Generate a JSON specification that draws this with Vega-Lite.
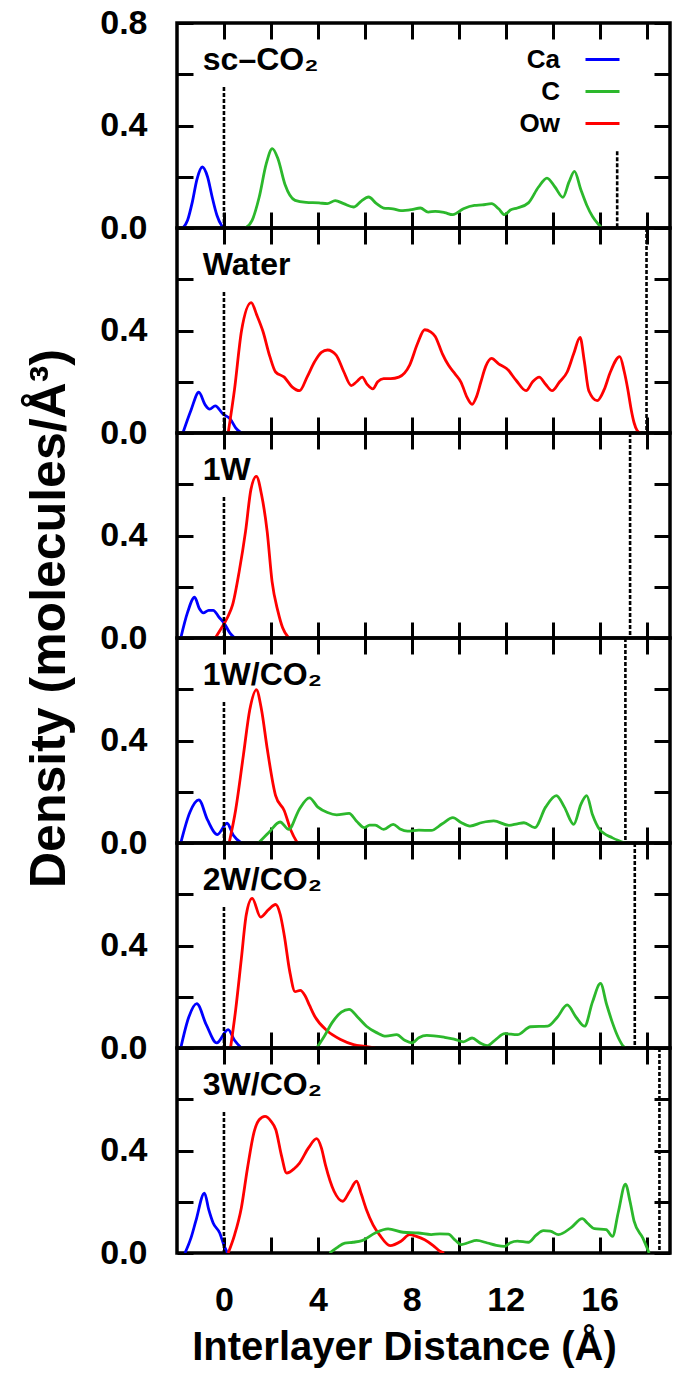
{
  "$schema": "https://vega.github.io/schema/vega-lite/v6.json",
  "background": "white",
  "padding": {"left": 22, "top": 4, "right": 0, "bottom": 0},
  "datasets": {
    "scco2": [
      {"species":"Ca","distance":-1.75,"density":0},{"species":"Ca","distance":-1.55,"density":0.03},{"species":"Ca","distance":-1.35,"density":0.1},{"species":"Ca","distance":-1.15,"density":0.19},{"species":"Ca","distance":-0.92,"density":0.238},{"species":"Ca","distance":-0.7,"density":0.2},{"species":"Ca","distance":-0.5,"density":0.12},{"species":"Ca","distance":-0.3,"density":0.05},{"species":"Ca","distance":-0.1,"density":0.01},{"species":"Ca","distance":0,"density":0},
      {"species":"C","distance":0.92,"density":0},{"species":"C","distance":1.2,"density":0.03},{"species":"C","distance":1.5,"density":0.12},{"species":"C","distance":1.8,"density":0.25},{"species":"C","distance":2.06,"density":0.31},{"species":"C","distance":2.3,"density":0.27},{"species":"C","distance":2.6,"density":0.17},{"species":"C","distance":3.03,"density":0.108},{"species":"C","distance":3.5,"density":0.1},{"species":"C","distance":4.05,"density":0.098},{"species":"C","distance":4.4,"density":0.095},{"species":"C","distance":4.74,"density":0.107},{"species":"C","distance":5.1,"density":0.095},{"species":"C","distance":5.52,"density":0.082},{"species":"C","distance":5.85,"density":0.105},{"species":"C","distance":6.16,"density":0.121},{"species":"C","distance":6.5,"density":0.095},{"species":"C","distance":6.8,"density":0.078},{"species":"C","distance":7.2,"density":0.075},{"species":"C","distance":7.54,"density":0.068},{"species":"C","distance":8.0,"density":0.072},{"species":"C","distance":8.37,"density":0.078},{"species":"C","distance":8.7,"density":0.062},{"species":"C","distance":9.0,"density":0.065},{"species":"C","distance":9.4,"density":0.06},{"species":"C","distance":9.75,"density":0.052},{"species":"C","distance":10.2,"density":0.075},{"species":"C","distance":10.67,"density":0.088},{"species":"C","distance":11.0,"density":0.09},{"species":"C","distance":11.4,"density":0.095},{"species":"C","distance":11.7,"density":0.075},{"species":"C","distance":11.95,"density":0.052},{"species":"C","distance":12.2,"density":0.07},{"species":"C","distance":12.5,"density":0.078},{"species":"C","distance":12.97,"density":0.098},{"species":"C","distance":13.4,"density":0.16},{"species":"C","distance":13.76,"density":0.195},{"species":"C","distance":14.1,"density":0.16},{"species":"C","distance":14.44,"density":0.12},{"species":"C","distance":14.7,"density":0.18},{"species":"C","distance":14.93,"density":0.221},{"species":"C","distance":15.2,"density":0.15},{"species":"C","distance":15.45,"density":0.09},{"species":"C","distance":15.7,"density":0.045},{"species":"C","distance":15.9,"density":0.02},{"species":"C","distance":16.1,"density":0}
    ],
    "water": [
      {"species":"Ca","distance":-1.75,"density":0},{"species":"Ca","distance":-1.4,"density":0.09},{"species":"Ca","distance":-1.07,"density":0.159},{"species":"Ca","distance":-0.8,"density":0.11},{"species":"Ca","distance":-0.61,"density":0.093},{"species":"Ca","distance":-0.37,"density":0.106},{"species":"Ca","distance":-0.05,"density":0.075},{"species":"Ca","distance":0.28,"density":0.053},{"species":"Ca","distance":0.5,"density":0.02},{"species":"Ca","distance":0.74,"density":0},
      {"species":"Ow","distance":0.18,"density":0},{"species":"Ow","distance":0.45,"density":0.17},{"species":"Ow","distance":0.75,"density":0.4},{"species":"Ow","distance":1.16,"density":0.509},{"species":"Ow","distance":1.4,"density":0.46},{"species":"Ow","distance":1.66,"density":0.397},{"species":"Ow","distance":1.95,"density":0.3},{"species":"Ow","distance":2.2,"density":0.238},{"species":"Ow","distance":2.57,"density":0.218},{"species":"Ow","distance":2.9,"density":0.18},{"species":"Ow","distance":3.22,"density":0.165},{"species":"Ow","distance":3.55,"density":0.22},{"species":"Ow","distance":3.86,"density":0.278},{"species":"Ow","distance":4.15,"density":0.315},{"species":"Ow","distance":4.41,"density":0.324},{"species":"Ow","distance":4.78,"density":0.304},{"species":"Ow","distance":5.1,"density":0.24},{"species":"Ow","distance":5.42,"density":0.185},{"species":"Ow","distance":5.65,"density":0.2},{"species":"Ow","distance":5.89,"density":0.218},{"species":"Ow","distance":6.1,"density":0.19},{"species":"Ow","distance":6.34,"density":0.172},{"species":"Ow","distance":6.55,"density":0.2},{"species":"Ow","distance":6.8,"density":0.212},{"species":"Ow","distance":7.1,"density":0.212},{"species":"Ow","distance":7.45,"density":0.218},{"species":"Ow","distance":7.91,"density":0.265},{"species":"Ow","distance":8.25,"density":0.35},{"species":"Ow","distance":8.55,"density":0.403},{"species":"Ow","distance":8.8,"density":0.395},{"species":"Ow","distance":9.0,"density":0.377},{"species":"Ow","distance":9.3,"density":0.31},{"species":"Ow","distance":9.56,"density":0.265},{"species":"Ow","distance":9.85,"density":0.23},{"species":"Ow","distance":10.1,"density":0.198},{"species":"Ow","distance":10.35,"density":0.14},{"species":"Ow","distance":10.57,"density":0.112},{"species":"Ow","distance":10.75,"density":0.14},{"species":"Ow","distance":10.94,"density":0.198},{"species":"Ow","distance":11.15,"density":0.26},{"species":"Ow","distance":11.4,"density":0.291},{"species":"Ow","distance":11.7,"density":0.27},{"species":"Ow","distance":12.05,"density":0.251},{"species":"Ow","distance":12.45,"density":0.205},{"species":"Ow","distance":12.87,"density":0.165},{"species":"Ow","distance":13.15,"density":0.2},{"species":"Ow","distance":13.43,"density":0.218},{"species":"Ow","distance":13.7,"density":0.19},{"species":"Ow","distance":13.98,"density":0.165},{"species":"Ow","distance":14.3,"density":0.2},{"species":"Ow","distance":14.62,"density":0.238},{"species":"Ow","distance":14.9,"density":0.31},{"species":"Ow","distance":15.17,"density":0.373},{"species":"Ow","distance":15.35,"density":0.28},{"species":"Ow","distance":15.54,"density":0.165},{"species":"Ow","distance":15.9,"density":0.126},{"species":"Ow","distance":16.2,"density":0.17},{"species":"Ow","distance":16.46,"density":0.238},{"species":"Ow","distance":16.86,"density":0.298},{"species":"Ow","distance":17.05,"density":0.24},{"species":"Ow","distance":17.2,"density":0.172},{"species":"Ow","distance":17.35,"density":0.09},{"species":"Ow","distance":17.47,"density":0.04},{"species":"Ow","distance":17.6,"density":0.01},{"species":"Ow","distance":17.75,"density":0}
    ],
    "w1": [
      {"species":"Ca","distance":-1.84,"density":0},{"species":"Ca","distance":-1.55,"density":0.1},{"species":"Ca","distance":-1.25,"density":0.159},{"species":"Ca","distance":-1.05,"density":0.115},{"species":"Ca","distance":-0.88,"density":0.098},{"species":"Ca","distance":-0.65,"density":0.108},{"species":"Ca","distance":-0.46,"density":0.108},{"species":"Ca","distance":-0.2,"density":0.08},{"species":"Ca","distance":0,"density":0.059},{"species":"Ca","distance":0.25,"density":0.02},{"species":"Ca","distance":0.46,"density":0},
      {"species":"Ow","distance":-0.37,"density":0},{"species":"Ow","distance":-0.1,"density":0.04},{"species":"Ow","distance":0.15,"density":0.08},{"species":"Ow","distance":0.37,"density":0.13},{"species":"Ow","distance":0.65,"density":0.26},{"species":"Ow","distance":0.92,"density":0.416},{"species":"Ow","distance":1.15,"density":0.58},{"species":"Ow","distance":1.38,"density":0.631},{"species":"Ow","distance":1.6,"density":0.56},{"species":"Ow","distance":1.84,"density":0.416},{"species":"Ow","distance":2.05,"density":0.22},{"species":"Ow","distance":2.3,"density":0.104},{"species":"Ow","distance":2.5,"density":0.04},{"species":"Ow","distance":2.76,"density":0}
    ],
    "w1co2": [
      {"species":"Ca","distance":-1.84,"density":0},{"species":"Ca","distance":-1.45,"density":0.12},{"species":"Ca","distance":-1.07,"density":0.168},{"species":"Ca","distance":-0.7,"density":0.09},{"species":"Ca","distance":-0.28,"density":0.033},{"species":"Ca","distance":0.13,"density":0.077},{"species":"Ca","distance":0.4,"density":0.03},{"species":"Ca","distance":0.74,"density":0},
      {"species":"Ow","distance":0.22,"density":0},{"species":"Ow","distance":0.5,"density":0.13},{"species":"Ow","distance":0.83,"density":0.344},{"species":"Ow","distance":1.1,"density":0.52},{"species":"Ow","distance":1.38,"density":0.598},{"species":"Ow","distance":1.6,"density":0.52},{"species":"Ow","distance":1.84,"density":0.37},{"species":"Ow","distance":2.2,"density":0.185},{"species":"Ow","distance":2.57,"density":0.126},{"species":"Ow","distance":2.85,"density":0.05},{"species":"Ow","distance":3.13,"density":0},
      {"species":"C","distance":1.47,"density":0},{"species":"C","distance":1.9,"density":0.04},{"species":"C","distance":2.39,"density":0.082},{"species":"C","distance":2.76,"density":0.053},{"species":"C","distance":3.2,"density":0.13},{"species":"C","distance":3.64,"density":0.176},{"species":"C","distance":4.0,"density":0.14},{"species":"C","distance":4.41,"density":0.119},{"species":"C","distance":4.8,"density":0.11},{"species":"C","distance":5.33,"density":0.116},{"species":"C","distance":5.65,"density":0.085},{"species":"C","distance":5.98,"density":0.06},{"species":"C","distance":6.2,"density":0.07},{"species":"C","distance":6.44,"density":0.07},{"species":"C","distance":6.8,"density":0.053},{"species":"C","distance":7.21,"density":0.073},{"species":"C","distance":7.5,"density":0.055},{"species":"C","distance":7.82,"density":0.046},{"species":"C","distance":8.3,"density":0.05},{"species":"C","distance":8.83,"density":0.049},{"species":"C","distance":9.3,"density":0.075},{"species":"C","distance":9.75,"density":0.099},{"species":"C","distance":10.1,"density":0.08},{"species":"C","distance":10.48,"density":0.066},{"species":"C","distance":11.0,"density":0.08},{"species":"C","distance":11.49,"density":0.086},{"species":"C","distance":12.14,"density":0.069},{"species":"C","distance":12.5,"density":0.075},{"species":"C","distance":12.78,"density":0.079},{"species":"C","distance":13.24,"density":0.06},{"species":"C","distance":13.7,"density":0.14},{"species":"C","distance":14.16,"density":0.185},{"species":"C","distance":14.5,"density":0.14},{"species":"C","distance":14.9,"density":0.073},{"species":"C","distance":15.2,"density":0.15},{"species":"C","distance":15.45,"density":0.185},{"species":"C","distance":15.7,"density":0.11},{"species":"C","distance":16.0,"density":0.053},{"species":"C","distance":16.55,"density":0.02},{"species":"C","distance":17.1,"density":0}
    ],
    "w2co2": [
      {"species":"Ca","distance":-1.84,"density":0},{"species":"Ca","distance":-1.5,"density":0.12},{"species":"Ca","distance":-1.16,"density":0.173},{"species":"Ca","distance":-0.75,"density":0.09},{"species":"Ca","distance":-0.31,"density":0.02},{"species":"Ca","distance":0.18,"density":0.072},{"species":"Ca","distance":0.45,"density":0.03},{"species":"Ca","distance":0.74,"density":0},
      {"species":"Ow","distance":0.28,"density":0},{"species":"Ow","distance":0.5,"density":0.15},{"species":"Ow","distance":0.74,"density":0.348},{"species":"Ow","distance":0.95,"density":0.52},{"species":"Ow","distance":1.2,"density":0.584},{"species":"Ow","distance":1.56,"density":0.511},{"species":"Ow","distance":1.9,"density":0.54},{"species":"Ow","distance":2.2,"density":0.56},{"species":"Ow","distance":2.4,"density":0.52},{"species":"Ow","distance":2.57,"density":0.439},{"species":"Ow","distance":2.8,"density":0.3},{"species":"Ow","distance":3.03,"density":0.22},{"species":"Ow","distance":3.25,"density":0.225},{"species":"Ow","distance":3.45,"density":0.205},{"species":"Ow","distance":3.65,"density":0.165},{"species":"Ow","distance":3.86,"density":0.125},{"species":"Ow","distance":4.41,"density":0.066},{"species":"Ow","distance":4.97,"density":0.033},{"species":"Ow","distance":5.52,"density":0.013},{"species":"Ow","distance":6.0,"density":0.006},{"species":"Ow","distance":6.44,"density":0},
      {"species":"C","distance":3.95,"density":0},{"species":"C","distance":4.3,"density":0.05},{"species":"C","distance":4.6,"density":0.098},{"species":"C","distance":5.0,"density":0.14},{"species":"C","distance":5.33,"density":0.151},{"species":"C","distance":5.7,"density":0.12},{"species":"C","distance":6.07,"density":0.085},{"species":"C","distance":6.5,"density":0.06},{"species":"C","distance":6.9,"density":0.046},{"species":"C","distance":7.36,"density":0.052},{"species":"C","distance":7.7,"density":0.03},{"species":"C","distance":8.0,"density":0.02},{"species":"C","distance":8.3,"density":0.04},{"species":"C","distance":8.64,"density":0.049},{"species":"C","distance":9.38,"density":0.042},{"species":"C","distance":9.8,"density":0.035},{"species":"C","distance":10.2,"density":0.024},{"species":"C","distance":10.57,"density":0.039},{"species":"C","distance":10.9,"density":0.02},{"species":"C","distance":11.22,"density":0.009},{"species":"C","distance":11.6,"density":0.035},{"species":"C","distance":11.95,"density":0.056},{"species":"C","distance":12.5,"density":0.052},{"species":"C","distance":13.06,"density":0.083},{"species":"C","distance":13.79,"density":0.085},{"species":"C","distance":14.2,"density":0.12},{"species":"C","distance":14.62,"density":0.168},{"species":"C","distance":15.0,"density":0.12},{"species":"C","distance":15.36,"density":0.085},{"species":"C","distance":15.7,"density":0.18},{"species":"C","distance":16.04,"density":0.252},{"species":"C","distance":16.3,"density":0.17},{"species":"C","distance":16.55,"density":0.098},{"species":"C","distance":16.8,"density":0.04},{"species":"C","distance":17.01,"density":0.007},{"species":"C","distance":17.1,"density":0}
    ],
    "w3co2": [
      {"species":"Ca","distance":-1.66,"density":0},{"species":"Ca","distance":-1.4,"density":0.06},{"species":"Ca","distance":-1.2,"density":0.124},{"species":"Ca","distance":-0.83,"density":0.234},{"species":"Ca","distance":-0.65,"density":0.17},{"species":"Ca","distance":-0.46,"density":0.117},{"species":"Ca","distance":-0.18,"density":0.078},{"species":"Ca","distance":0,"density":0.03},{"species":"Ca","distance":0.15,"density":0},
      {"species":"Ow","distance":0.18,"density":0},{"species":"Ow","distance":0.45,"density":0.07},{"species":"Ow","distance":0.74,"density":0.176},{"species":"Ow","distance":1.0,"density":0.33},{"species":"Ow","distance":1.29,"density":0.475},{"species":"Ow","distance":1.5,"density":0.52},{"species":"Ow","distance":1.75,"density":0.533},{"species":"Ow","distance":2.0,"density":0.515},{"species":"Ow","distance":2.21,"density":0.481},{"species":"Ow","distance":2.45,"density":0.38},{"species":"Ow","distance":2.67,"density":0.312},{"species":"Ow","distance":3.0,"density":0.33},{"species":"Ow","distance":3.22,"density":0.351},{"species":"Ow","distance":3.6,"density":0.41},{"species":"Ow","distance":3.95,"density":0.446},{"species":"Ow","distance":4.15,"density":0.41},{"species":"Ow","distance":4.32,"density":0.345},{"species":"Ow","distance":4.69,"density":0.241},{"species":"Ow","distance":5.06,"density":0.202},{"species":"Ow","distance":5.35,"density":0.24},{"species":"Ow","distance":5.65,"density":0.28},{"species":"Ow","distance":5.85,"density":0.23},{"species":"Ow","distance":6.07,"density":0.169},{"species":"Ow","distance":6.35,"density":0.11},{"species":"Ow","distance":6.62,"density":0.072},{"species":"Ow","distance":7.08,"density":0.029},{"species":"Ow","distance":7.54,"density":0.046},{"species":"Ow","distance":7.91,"density":0.072},{"species":"Ow","distance":8.2,"density":0.065},{"species":"Ow","distance":8.55,"density":0.052},{"species":"Ow","distance":8.9,"density":0.03},{"species":"Ow","distance":9.2,"density":0.007},{"species":"Ow","distance":9.38,"density":0},
      {"species":"C","distance":4.5,"density":0},{"species":"C","distance":4.8,"density":0.02},{"species":"C","distance":5.15,"density":0.039},{"species":"C","distance":5.5,"density":0.042},{"species":"C","distance":5.88,"density":0.048},{"species":"C","distance":6.44,"density":0.078},{"species":"C","distance":6.99,"density":0.094},{"species":"C","distance":7.63,"density":0.081},{"species":"C","distance":8.28,"density":0.078},{"species":"C","distance":8.83,"density":0.072},{"species":"C","distance":9.2,"density":0.075},{"species":"C","distance":9.56,"density":0.074},{"species":"C","distance":9.85,"density":0.05},{"species":"C","distance":10.11,"density":0.033},{"species":"C","distance":10.4,"density":0.04},{"species":"C","distance":10.76,"density":0.049},{"species":"C","distance":11.22,"density":0.039},{"species":"C","distance":11.6,"density":0.03},{"species":"C","distance":11.95,"density":0.026},{"species":"C","distance":12.2,"density":0.04},{"species":"C","distance":12.5,"density":0.046},{"species":"C","distance":12.97,"density":0.042},{"species":"C","distance":13.3,"density":0.07},{"species":"C","distance":13.61,"density":0.087},{"species":"C","distance":13.9,"density":0.085},{"species":"C","distance":14.25,"density":0.072},{"species":"C","distance":14.8,"density":0.1},{"species":"C","distance":15.26,"density":0.134},{"species":"C","distance":15.5,"density":0.115},{"species":"C","distance":15.78,"density":0.095},{"species":"C","distance":16.28,"density":0.091},{"species":"C","distance":16.55,"density":0.065},{"species":"C","distance":16.8,"density":0.16},{"species":"C","distance":17.1,"density":0.269},{"species":"C","distance":17.3,"density":0.2},{"species":"C","distance":17.47,"density":0.124},{"species":"C","distance":17.84,"density":0.059},{"species":"C","distance":18.11,"density":0}
    ]
  },
  "vconcat": [
    {
      "width": 493, "height": 205,
      "layer": [
        {
          "data": {"name": "scco2"},
          "mark": {"type": "line", "strokeWidth": 2.8, "interpolate": "monotone", "clip": true},
          "encoding": {
            "x": {"field": "distance", "type": "quantitative", "scale": {"domain": [-2, 19], "nice": false, "zero": false}, "axis": {"orient": "bottom", "values": [0,2,4,6,8,10,12,14,16,18], "labels": false, "title": null}},
            "y": {"field": "density", "type": "quantitative", "scale": {"domain": [0, 0.8], "nice": false}, "axis": {"orient": "left", "values": [0,0.2,0.4,0.6,0.8], "format": ".1f", "labelExpr": "(abs(datum.value - 0.2) < 0.01 || abs(datum.value - 0.6) < 0.01) ? '' : datum.label", "title": null}},
            "color": {"field": "species", "type": "nominal", "scale": {"domain": ["Ca", "C", "Ow"], "range": ["#0000ff", "#2cb82c", "#ff0000"]},
              "legend": {"orient": "none", "legendX": 407, "legendY": 18, "title": null, "symbolType": "stroke", "symbolSize": 1156, "symbolStrokeWidth": 2.8, "labelAlign": "right", "labelOffset": -61, "labelFontSize": 26, "labelFontWeight": "bold", "labelFont": "Liberation Sans", "labelColor": "black", "rowPadding": -5, "padding": 0}}
          }
        },
        {
          "data": {"values": [{"distance": 0, "top": 0.55}, {"distance": 16.75, "top": 0.3}]},
          "mark": {"type": "rule", "strokeDash": [4, 2], "strokeWidth": 2.6, "color": "black"},
          "encoding": {
            "x": {"field": "distance", "type": "quantitative", "scale": {"domain": [-2, 19], "nice": false, "zero": false}, "axis": {"orient": "top", "values": [0,2,4,6,8,10,12,14,16,18], "labels": false, "title": null}},
            "y": {"field": "top", "type": "quantitative", "scale": {"domain": [0, 0.8], "nice": false}, "axis": {"orient": "right", "values": [0,0.2,0.4,0.6,0.8], "labels": false, "title": null}},
            "y2": {"datum": 0}
          }
        },
        {
          "data": {"values": [{"label": "sc–CO₂"}]},
          "mark": {"type": "text", "align": "left", "baseline": "alphabetic", "fontSize": 32, "fontWeight": "bold", "font": "Liberation Sans", "color": "black"},
          "encoding": {
            "x": {"datum": -0.9, "type": "quantitative", "scale": {"domain": [-2, 19], "nice": false, "zero": false}, "axis": null},
            "y": {"datum": 0.615, "type": "quantitative", "scale": {"domain": [0, 0.8], "nice": false}, "axis": null},
            "text": {"field": "label"}
          }
        }
      ],
      "resolve": {"axis": {"x": "independent", "y": "independent"}}
    },
    {
      "width": 493, "height": 205,
      "layer": [
        {
          "data": {"name": "water"},
          "mark": {"type": "line", "strokeWidth": 2.8, "interpolate": "monotone", "clip": true},
          "encoding": {
            "x": {"field": "distance", "type": "quantitative", "scale": {"domain": [-2, 19], "nice": false, "zero": false}, "axis": {"orient": "bottom", "values": [0,2,4,6,8,10,12,14,16,18], "labels": false, "title": null}},
            "y": {"field": "density", "type": "quantitative", "scale": {"domain": [0, 0.8], "nice": false}, "axis": {"orient": "left", "values": [0,0.2,0.4,0.6,0.8], "format": ".1f", "labelExpr": "(datum.value < 0.05 || abs(datum.value - 0.4) < 0.01) ? datum.label : ''", "title": null}},
            "color": {"field": "species", "type": "nominal", "scale": {"domain": ["Ca", "C", "Ow"], "range": ["#0000ff", "#2cb82c", "#ff0000"]}, "legend": null}
          }
        },
        {
          "data": {"values": [{"distance": 0, "top": 0.55}, {"distance": 18.0, "top": 0.8}]},
          "mark": {"type": "rule", "strokeDash": [4, 2], "strokeWidth": 2.6, "color": "black"},
          "encoding": {
            "x": {"field": "distance", "type": "quantitative", "scale": {"domain": [-2, 19], "nice": false, "zero": false}, "axis": {"orient": "top", "values": [0,2,4,6,8,10,12,14,16,18], "labels": false, "title": null}},
            "y": {"field": "top", "type": "quantitative", "scale": {"domain": [0, 0.8], "nice": false}, "axis": {"orient": "right", "values": [0,0.2,0.4,0.6,0.8], "labels": false, "title": null}},
            "y2": {"datum": 0}
          }
        },
        {
          "data": {"values": [{"label": "Water"}]},
          "mark": {"type": "text", "align": "left", "baseline": "alphabetic", "fontSize": 32, "fontWeight": "bold", "font": "Liberation Sans", "color": "black"},
          "encoding": {
            "x": {"datum": -0.9, "type": "quantitative", "scale": {"domain": [-2, 19], "nice": false, "zero": false}, "axis": null},
            "y": {"datum": 0.615, "type": "quantitative", "scale": {"domain": [0, 0.8], "nice": false}, "axis": null},
            "text": {"field": "label"}
          }
        }
      ],
      "resolve": {"axis": {"x": "independent", "y": "independent"}}
    },
    {
      "width": 493, "height": 205,
      "layer": [
        {
          "data": {"name": "w1"},
          "mark": {"type": "line", "strokeWidth": 2.8, "interpolate": "monotone", "clip": true},
          "encoding": {
            "x": {"field": "distance", "type": "quantitative", "scale": {"domain": [-2, 19], "nice": false, "zero": false}, "axis": {"orient": "bottom", "values": [0,2,4,6,8,10,12,14,16,18], "labels": false, "title": null}},
            "y": {"field": "density", "type": "quantitative", "scale": {"domain": [0, 0.8], "nice": false}, "axis": {"orient": "left", "values": [0,0.2,0.4,0.6,0.8], "format": ".1f", "labelExpr": "(datum.value < 0.05 || abs(datum.value - 0.4) < 0.01) ? datum.label : ''", "title": "Density (molecules/Å³)", "titleFontSize": 50, "titleAngle": -90, "titleAlign": "center", "titleBaseline": "alphabetic", "titleX": -113, "titleY": 185}},
            "color": {"field": "species", "type": "nominal", "scale": {"domain": ["Ca", "C", "Ow"], "range": ["#0000ff", "#2cb82c", "#ff0000"]}, "legend": null}
          }
        },
        {
          "data": {"values": [{"distance": 0, "top": 0.55}, {"distance": 17.3, "top": 0.8}]},
          "mark": {"type": "rule", "strokeDash": [4, 2], "strokeWidth": 2.6, "color": "black"},
          "encoding": {
            "x": {"field": "distance", "type": "quantitative", "scale": {"domain": [-2, 19], "nice": false, "zero": false}, "axis": {"orient": "top", "values": [0,2,4,6,8,10,12,14,16,18], "labels": false, "title": null}},
            "y": {"field": "top", "type": "quantitative", "scale": {"domain": [0, 0.8], "nice": false}, "axis": {"orient": "right", "values": [0,0.2,0.4,0.6,0.8], "labels": false, "title": null}},
            "y2": {"datum": 0}
          }
        },
        {
          "data": {"values": [{"label": "1W"}]},
          "mark": {"type": "text", "align": "left", "baseline": "alphabetic", "fontSize": 32, "fontWeight": "bold", "font": "Liberation Sans", "color": "black"},
          "encoding": {
            "x": {"datum": -0.9, "type": "quantitative", "scale": {"domain": [-2, 19], "nice": false, "zero": false}, "axis": null},
            "y": {"datum": 0.615, "type": "quantitative", "scale": {"domain": [0, 0.8], "nice": false}, "axis": null},
            "text": {"field": "label"}
          }
        }
      ],
      "resolve": {"axis": {"x": "independent", "y": "independent"}}
    },
    {
      "width": 493, "height": 205,
      "layer": [
        {
          "data": {"name": "w1co2"},
          "mark": {"type": "line", "strokeWidth": 2.8, "interpolate": "monotone", "clip": true},
          "encoding": {
            "x": {"field": "distance", "type": "quantitative", "scale": {"domain": [-2, 19], "nice": false, "zero": false}, "axis": {"orient": "bottom", "values": [0,2,4,6,8,10,12,14,16,18], "labels": false, "title": null}},
            "y": {"field": "density", "type": "quantitative", "scale": {"domain": [0, 0.8], "nice": false}, "axis": {"orient": "left", "values": [0,0.2,0.4,0.6,0.8], "format": ".1f", "labelExpr": "(datum.value < 0.05 || abs(datum.value - 0.4) < 0.01) ? datum.label : ''", "title": null}},
            "color": {"field": "species", "type": "nominal", "scale": {"domain": ["Ca", "C", "Ow"], "range": ["#0000ff", "#2cb82c", "#ff0000"]}, "legend": null}
          }
        },
        {
          "data": {"values": [{"distance": 0, "top": 0.55}, {"distance": 17.1, "top": 0.8}]},
          "mark": {"type": "rule", "strokeDash": [4, 2], "strokeWidth": 2.6, "color": "black"},
          "encoding": {
            "x": {"field": "distance", "type": "quantitative", "scale": {"domain": [-2, 19], "nice": false, "zero": false}, "axis": {"orient": "top", "values": [0,2,4,6,8,10,12,14,16,18], "labels": false, "title": null}},
            "y": {"field": "top", "type": "quantitative", "scale": {"domain": [0, 0.8], "nice": false}, "axis": {"orient": "right", "values": [0,0.2,0.4,0.6,0.8], "labels": false, "title": null}},
            "y2": {"datum": 0}
          }
        },
        {
          "data": {"values": [{"label": "1W/CO₂"}]},
          "mark": {"type": "text", "align": "left", "baseline": "alphabetic", "fontSize": 32, "fontWeight": "bold", "font": "Liberation Sans", "color": "black"},
          "encoding": {
            "x": {"datum": -0.9, "type": "quantitative", "scale": {"domain": [-2, 19], "nice": false, "zero": false}, "axis": null},
            "y": {"datum": 0.615, "type": "quantitative", "scale": {"domain": [0, 0.8], "nice": false}, "axis": null},
            "text": {"field": "label"}
          }
        }
      ],
      "resolve": {"axis": {"x": "independent", "y": "independent"}}
    },
    {
      "width": 493, "height": 205,
      "layer": [
        {
          "data": {"name": "w2co2"},
          "mark": {"type": "line", "strokeWidth": 2.8, "interpolate": "monotone", "clip": true},
          "encoding": {
            "x": {"field": "distance", "type": "quantitative", "scale": {"domain": [-2, 19], "nice": false, "zero": false}, "axis": {"orient": "bottom", "values": [0,2,4,6,8,10,12,14,16,18], "labels": false, "title": null}},
            "y": {"field": "density", "type": "quantitative", "scale": {"domain": [0, 0.8], "nice": false}, "axis": {"orient": "left", "values": [0,0.2,0.4,0.6,0.8], "format": ".1f", "labelExpr": "(datum.value < 0.05 || abs(datum.value - 0.4) < 0.01) ? datum.label : ''", "title": null}},
            "color": {"field": "species", "type": "nominal", "scale": {"domain": ["Ca", "C", "Ow"], "range": ["#0000ff", "#2cb82c", "#ff0000"]}, "legend": null}
          }
        },
        {
          "data": {"values": [{"distance": 0, "top": 0.55}, {"distance": 17.5, "top": 0.8}]},
          "mark": {"type": "rule", "strokeDash": [4, 2], "strokeWidth": 2.6, "color": "black"},
          "encoding": {
            "x": {"field": "distance", "type": "quantitative", "scale": {"domain": [-2, 19], "nice": false, "zero": false}, "axis": {"orient": "top", "values": [0,2,4,6,8,10,12,14,16,18], "labels": false, "title": null}},
            "y": {"field": "top", "type": "quantitative", "scale": {"domain": [0, 0.8], "nice": false}, "axis": {"orient": "right", "values": [0,0.2,0.4,0.6,0.8], "labels": false, "title": null}},
            "y2": {"datum": 0}
          }
        },
        {
          "data": {"values": [{"label": "2W/CO₂"}]},
          "mark": {"type": "text", "align": "left", "baseline": "alphabetic", "fontSize": 32, "fontWeight": "bold", "font": "Liberation Sans", "color": "black"},
          "encoding": {
            "x": {"datum": -0.9, "type": "quantitative", "scale": {"domain": [-2, 19], "nice": false, "zero": false}, "axis": null},
            "y": {"datum": 0.615, "type": "quantitative", "scale": {"domain": [0, 0.8], "nice": false}, "axis": null},
            "text": {"field": "label"}
          }
        }
      ],
      "resolve": {"axis": {"x": "independent", "y": "independent"}}
    },
    {
      "width": 493, "height": 205,
      "layer": [
        {
          "data": {"name": "w3co2"},
          "mark": {"type": "line", "strokeWidth": 2.8, "interpolate": "monotone", "clip": true},
          "encoding": {
            "x": {"field": "distance", "type": "quantitative", "scale": {"domain": [-2, 19], "nice": false, "zero": false}, "axis": {"orient": "bottom", "values": [0,2,4,6,8,10,12,14,16,18], "labelExpr": "datum.value % 4 == 0 ? datum.label : ''", "title": "Interlayer Distance (Å)", "titleFontSize": 40, "titleAlign": "center", "titleBaseline": "alphabetic", "titleX": 227, "titleY": 106}},
            "y": {"field": "density", "type": "quantitative", "scale": {"domain": [0, 0.8], "nice": false}, "axis": {"orient": "left", "values": [0,0.2,0.4,0.6,0.8], "format": ".1f", "labelExpr": "(datum.value < 0.05 || abs(datum.value - 0.4) < 0.01) ? datum.label : ''", "title": null}},
            "color": {"field": "species", "type": "nominal", "scale": {"domain": ["Ca", "C", "Ow"], "range": ["#0000ff", "#2cb82c", "#ff0000"]}, "legend": null}
          }
        },
        {
          "data": {"values": [{"distance": 0, "top": 0.55}, {"distance": 18.55, "top": 0.8}]},
          "mark": {"type": "rule", "strokeDash": [4, 2], "strokeWidth": 2.6, "color": "black"},
          "encoding": {
            "x": {"field": "distance", "type": "quantitative", "scale": {"domain": [-2, 19], "nice": false, "zero": false}, "axis": {"orient": "top", "values": [0,2,4,6,8,10,12,14,16,18], "labels": false, "title": null}},
            "y": {"field": "top", "type": "quantitative", "scale": {"domain": [0, 0.8], "nice": false}, "axis": {"orient": "right", "values": [0,0.2,0.4,0.6,0.8], "labels": false, "title": null}},
            "y2": {"datum": 0}
          }
        },
        {
          "data": {"values": [{"label": "3W/CO₂"}]},
          "mark": {"type": "text", "align": "left", "baseline": "alphabetic", "fontSize": 32, "fontWeight": "bold", "font": "Liberation Sans", "color": "black"},
          "encoding": {
            "x": {"datum": -0.9, "type": "quantitative", "scale": {"domain": [-2, 19], "nice": false, "zero": false}, "axis": null},
            "y": {"datum": 0.615, "type": "quantitative", "scale": {"domain": [0, 0.8], "nice": false}, "axis": null},
            "text": {"field": "label"}
          }
        }
      ],
      "resolve": {"axis": {"x": "independent", "y": "independent"}}
    }
  ],
  "spacing": 0,
  "bounds": "flush",
  "resolve": {"scale": {"color": "independent"}, "legend": {"color": "independent"}},
  "config": {
    "font": "Liberation Sans",
    "view": {"stroke": "black", "strokeWidth": 3.5},
    "concat": {"spacing": 0},
    "axis": {"domain": false, "grid": false, "ticks": true, "tickSize": -16, "tickWidth": 3, "tickColor": "black", "labelFont": "Liberation Sans", "labelFontSize": 34, "labelFontWeight": "bold", "labelColor": "black", "labelPadding": 46, "labelOverlap": false, "labelFlush": false, "titleFont": "Liberation Sans", "titleFontWeight": "bold", "titleColor": "black"}
  }
}
